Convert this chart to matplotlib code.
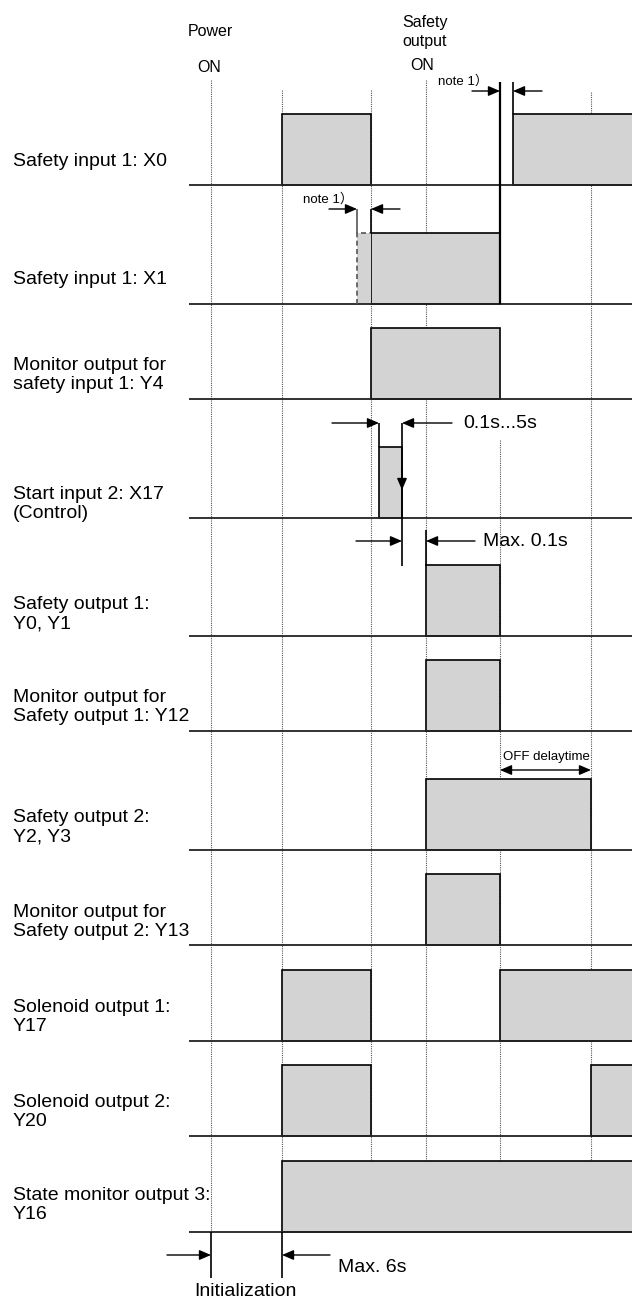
import matplotlib.pyplot as plt

plt.rcParams['font.family'] = ['Liberation Sans', 'Noto Sans CJK JP']

# event times along the time axis (diagram units)
t_power = 211
t_init = 282
t_x1_early = 357
t_x1_on = 371
t_start_on = 379
t_start_off = 402
t_out_on = 426
t_off = 500
t_x0_on = 513
t_delay = 591
t_end = 640

labels = [
    "Safety input 1: X0",
    "Safety input 1: X1",
    "Monitor output for\nsafety input 1: Y4",
    "Start input 2: X17\n(Control)",
    "Safety output 1:\nY0, Y1",
    "Monitor output for\nSafety output 1: Y12",
    "Safety output 2:\nY2, Y3",
    "Monitor output for\nSafety output 2: Y13",
    "Solenoid output 1:\nY17",
    "Solenoid output 2:\nY20",
    "State monitor output 3:\nY16",
]
on_intervals = [
    [(t_init, t_x1_on), (t_x0_on, t_end)],
    [(t_x1_on, t_off)],
    [(t_x1_on, t_off)],
    [(t_start_on, t_start_off)],
    [(t_out_on, t_off)],
    [(t_out_on, t_off)],
    [(t_out_on, t_delay)],
    [(t_out_on, t_off)],
    [(t_init, t_x1_on), (t_off, t_end)],
    [(t_init, t_x1_on), (t_delay, t_end)],
    [(t_init, t_end)],
]
grid_times = [t_power, t_init, t_x1_on, t_out_on, t_off, t_delay]

# layout
row_base = [185, 304, 399, 518, 636, 731, 850, 945, 1041, 1136, 1232]
label_y = [162, 279, 375, 504, 614, 707, 827, 922, 1017, 1112, 1205]
grid_top = [80, 90, 90, 80, 440, 92]
high = 71
fill = '#d3d3d3'

fig = plt.figure(figsize=(6.32, 13.0), dpi=100)
ax = fig.add_axes([0, 0, 1, 1])
ax.set_xlim(0, 632)
ax.set_ylim(1300, 0)
ax.axis('off')

# dotted time grid
for t, top in zip(grid_times, grid_top):
    ax.vlines(t, top, row_base[-1], colors='#555555', linestyles=(0, (1, 1)), lw=0.8, zorder=1)

# signal rows
for lab, ivs, base, ly in zip(labels, on_intervals, row_base, label_y):
    ax.hlines(base, 189, 632, colors='#222222', lw=1.3, zorder=3)
    for a, b in ivs:
        ax.bar(a, high, width=b - a, bottom=base - high, align='edge',
               color=fill, edgecolor='black', lw=1.2, zorder=2)
    ax.text(13, ly, lab, fontsize=14, va='center', ha='left', linespacing=1.2)

# X1 early (dashed) edge
b1 = row_base[1]
ax.bar(t_x1_early, high, width=t_x1_on - t_x1_early, bottom=b1 - high, align='edge',
       color=fill, lw=0, zorder=2)
ax.plot([t_x1_early, t_x1_early, t_x1_on], [b1, b1 - high, b1 - high],
        color='#555555', lw=1.2, ls=(0, (3, 2)), zorder=3)


def arrow(tail, tip):
    ax.annotate('', xy=tip, xytext=tail,
                arrowprops=dict(arrowstyle='-|>,head_length=0.7,head_width=0.3',
                                color='black', lw=1, shrinkA=0, shrinkB=0), zorder=5)


# header
ax.text(210, 31, "Power", fontsize=11.5, ha='center', va='center')
ax.text(209, 68, "ON", fontsize=11.5, ha='center', va='center')
ax.text(425, 32, "Safety\noutput", fontsize=11.5, ha='center', va='center', linespacing=1.3)
ax.text(422, 65, "ON", fontsize=11.5, ha='center', va='center')

# note 1 at X0 / X1 OFF
ax.vlines(t_off, 82, row_base[1], colors='black', lw=1.6, zorder=4)
ax.vlines(t_x0_on, 82, row_base[0] - high, colors='black', lw=1.2, zorder=4)
arrow((472, 91), (t_off, 91))
arrow((542, 91), (t_x0_on, 91))
ax.text(438, 81, "note 1）", fontsize=9.5, ha='left', va='center')

# note 1 at X1 ON
ax.vlines(t_x1_early, 209, b1 - high, colors='#555555', lw=1.2, zorder=4)
ax.vlines(t_x1_on, 209, b1 - high, colors='black', lw=1.2, zorder=4)
arrow((329, 209), (t_x1_early, 209))
arrow((400, 209), (t_x1_on, 209))
ax.text(303, 199, "note 1）", fontsize=9.5, ha='left', va='center')

# start pulse width
b3 = row_base[3]
ax.vlines(t_start_on, 423, b3 - high, colors='black', lw=1.2, zorder=4)
ax.vlines(t_start_off, 423, 566, colors='black', lw=1.2, zorder=4)
arrow((332, 423), (t_start_on, 423))
arrow((452, 423), (t_start_off, 423))
arrow((t_start_off, 470), (t_start_off, 490))
ax.text(463, 423, "0.1s...5s", fontsize=14, ha='left', va='center')

# output delay
ax.vlines(t_out_on, 530, 566, colors='black', lw=1.2, zorder=4)
arrow((356, 541), (t_start_off, 541))
arrow((475, 541), (t_out_on, 541))
ax.text(483, 541, "Max. 0.1s", fontsize=14, ha='left', va='center')

# OFF delay time
ax.annotate('', xy=(t_delay, 770), xytext=(t_off, 770),
            arrowprops=dict(arrowstyle='<|-|>,head_length=0.7,head_width=0.3',
                            color='black', lw=1, shrinkA=0, shrinkB=0), zorder=5)
ax.text(503, 757, "OFF delaytime", fontsize=9.5, ha='left', va='center')

# initialization
ax.vlines([t_power, t_init], row_base[-1], 1278, colors='black', lw=1.2, zorder=4)
arrow((167, 1255), (t_power, 1255))
arrow((330, 1255), (t_init, 1255))
ax.text(338, 1268, "Max. 6s", fontsize=14, ha='left', va='center')
ax.text(245, 1291, "Initialization", fontsize=14, ha='center', va='center')

fig.savefig('out.png', dpi=100)
